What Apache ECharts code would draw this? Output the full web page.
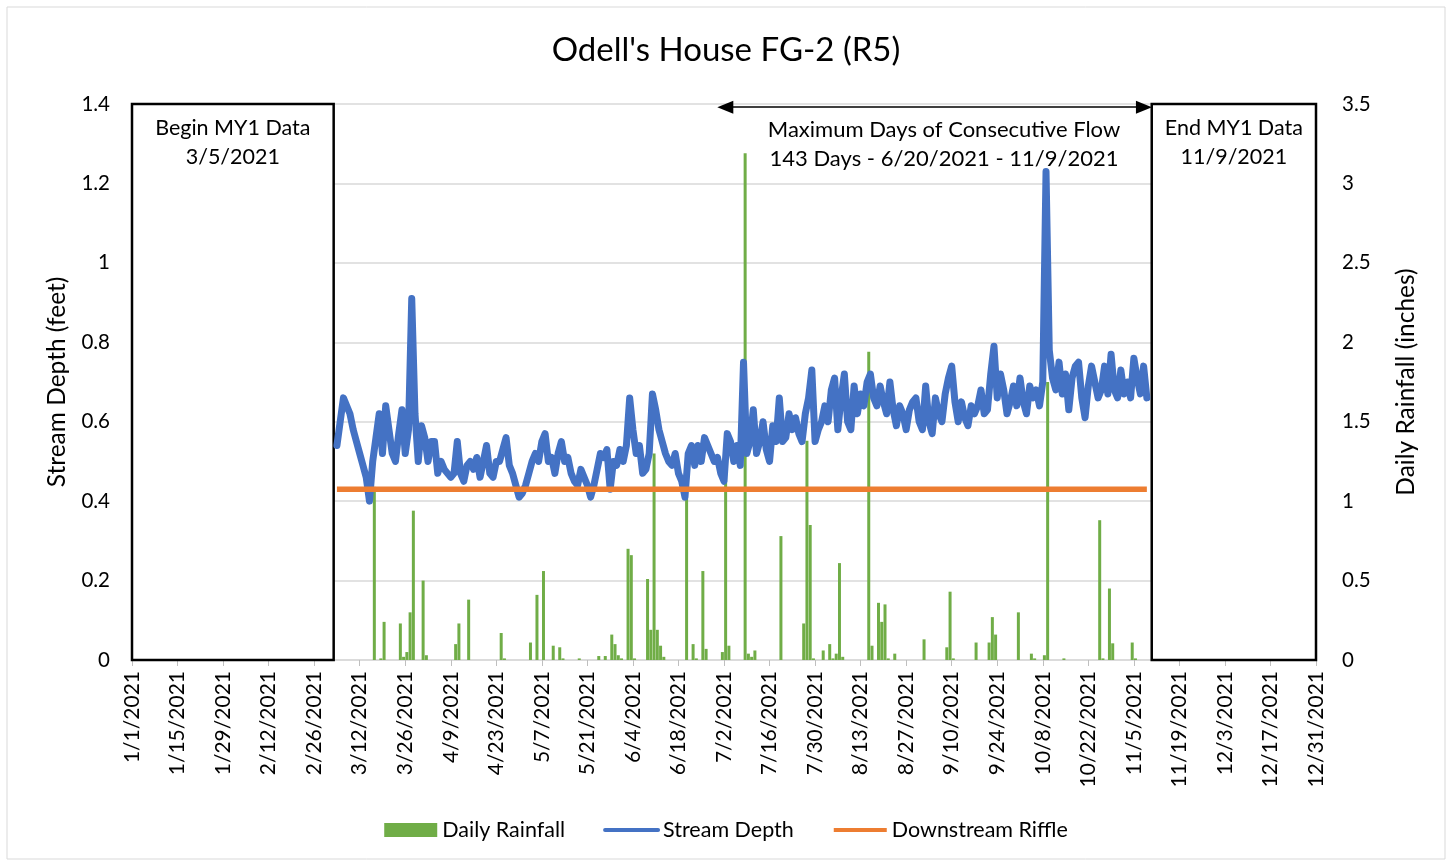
<!DOCTYPE html>
<html>
<head>
<meta charset="utf-8">
<title>Odell's House FG-2 (R5)</title>
<script src="https://cdn.jsdelivr.net/npm/echarts@6/dist/echarts.min.js"></script>
<style>
html,body{margin:0;padding:0;background:#fff;}
#main{width:1452px;height:864px;}
</style>
</head>
<body>
<div id="main"></div>
<script>
var year = 2021;

// stream depth (feet), one reading per day starting at depthStart
var depthStart = '3/5';
var streamDepth = [
	0.54,0.60,0.66,0.64,0.62,0.58,0.55,0.52,0.49,0.46,
	0.40,0.50,0.56,0.62,0.52,0.64,0.58,0.52,0.50,0.57,
	0.63,0.52,0.58,0.91,0.62,0.50,0.59,0.56,0.50,0.55,
	0.55,0.47,0.50,0.48,0.47,0.46,0.47,0.55,0.47,0.45,
	0.49,0.50,0.48,0.51,0.46,0.50,0.54,0.47,0.46,0.50,
	0.50,0.53,0.56,0.49,0.47,0.44,0.41,0.42,0.44,0.47,
	0.50,0.52,0.50,0.55,0.57,0.50,0.51,0.47,0.52,0.55,
	0.50,0.51,0.47,0.45,0.44,0.48,0.46,0.44,0.41,0.44,
	0.48,0.52,0.51,0.53,0.43,0.50,0.49,0.53,0.50,0.54,
	0.66,0.58,0.52,0.54,0.47,0.48,0.52,0.67,0.63,0.58,
	0.55,0.52,0.50,0.49,0.52,0.47,0.45,0.41,0.52,0.54,
	0.49,0.54,0.50,0.56,0.54,0.52,0.50,0.51,0.47,0.45,
	0.57,0.55,0.50,0.54,0.49,0.75,0.52,0.55,0.63,0.52,
	0.55,0.60,0.53,0.50,0.59,0.55,0.66,0.55,0.56,0.62,
	0.58,0.61,0.57,0.55,0.62,0.66,0.73,0.55,0.58,0.60,
	0.64,0.60,0.68,0.71,0.58,0.66,0.72,0.60,0.58,0.69,
	0.62,0.67,0.64,0.70,0.72,0.66,0.64,0.69,0.65,0.62,
	0.70,0.63,0.59,0.64,0.62,0.58,0.63,0.65,0.66,0.60,
	0.58,0.69,0.60,0.57,0.66,0.62,0.60,0.67,0.71,0.74,
	0.65,0.60,0.65,0.61,0.59,0.64,0.62,0.64,0.68,0.62,
	0.63,0.72,0.79,0.66,0.72,0.68,0.62,0.65,0.69,0.64,
	0.71,0.65,0.62,0.69,0.66,0.68,0.64,0.70,1.23,0.78,
	0.71,0.68,0.75,0.67,0.72,0.63,0.71,0.74,0.75,0.66,
	0.61,0.69,0.74,0.70,0.66,0.68,0.74,0.67,0.77,0.68,
	0.66,0.73,0.67,0.70,0.66,0.76,0.71,0.67,0.74,0.66
];

// downstream riffle elevation (feet)
var riffleDepth = 0.43;

// daily rainfall (inches)
var rainDates = [
	'3/16','3/18','3/19','3/24','3/25','3/26','3/27','3/28','3/31','4/1',
	'4/10','4/11','4/14','4/24','4/25','5/3','5/5','5/7','5/10','5/12',
	'5/13','5/18','5/24','5/26','5/28','5/29','5/30','5/31','6/2','6/3',
	'6/4','6/8','6/9','6/10','6/11','6/12','6/13','6/20','6/22','6/23',
	'6/25','6/26','7/1','7/2','7/3','7/8','7/9','7/10','7/11','7/19',
	'7/26','7/27','7/28','7/29','8/1','8/3','8/4','8/5','8/6','8/7',
	'8/15','8/16','8/18','8/19','8/20','8/21','8/23','9/1','9/8','9/9',
	'9/10','9/17','9/21','9/22','9/23','9/30','10/4','10/5','10/8','10/9',
	'10/14','10/25','10/26','10/28','10/29','11/4','11/5'
];
var rainInches = [
	1.09,0.01,0.24,0.23,0.02,0.05,0.30,0.94,0.50,0.03,
	0.10,0.23,0.38,0.17,0.01,0.11,0.41,0.56,0.09,0.08,
	0.01,0.01,0.025,0.025,0.16,0.10,0.03,0.01,0.70,0.66,
	0.01,0.51,0.19,1.30,0.19,0.09,0.02,1.02,0.10,0.01,
	0.56,0.07,0.05,1.20,0.09,3.19,0.04,0.02,0.06,0.78,
	0.23,1.38,0.85,0.01,0.06,0.10,0.01,0.04,0.61,0.02,
	1.94,0.09,0.36,0.24,0.35,0.01,0.04,0.13,0.08,0.43,
	0.01,0.11,0.11,0.27,0.16,0.30,0.04,0.01,0.03,1.75,
	0.01,0.88,0.01,0.45,0.105,0.11,0.01
];

var daysShown = 364;   // 1/1 .. 12/31
var dateStep = 14;

function dayIndex(md){
	var p = md.split('/');
	return Math.round((Date.UTC(year, p[0] - 1, +p[1]) - Date.UTC(year, 0, 1)) / 86400000);
}
function dayLabel(n){
	var d = new Date(Date.UTC(year, 0, 1 + Math.round(n)));
	return (d.getUTCMonth() + 1) + '/' + d.getUTCDate() + '/' + d.getUTCFullYear();
}

var start = dayIndex(depthStart);
var depthData = [];
var riffleData = [];
for (var i = 0; i < streamDepth.length; i++) {
	depthData.push([start + i, streamDepth[i]]);
	riffleData.push([start + i, riffleDepth]);
}
var rainData = [];
for (var j = 0; j < rainDates.length; j++) {
	// columns sit in the middle of their day slot
	rainData.push([dayIndex(rainDates[j]) + 0.5, rainInches[j]]);
}

var font = 'Lato, "Liberation Sans", sans-serif';
var myChart = echarts.init(document.getElementById('main'));

var option = {
	backgroundColor: '#fff',
	animation: false,
	textStyle: { fontFamily: font, color: '#000' },
	title: {
		text: "Odell's House FG-2 (R5)",
		left: 'center',
		top: 29,
		textStyle: { fontFamily: font, fontSize: 33, fontWeight: 'normal', color: '#000' }
	},
	legend: {
		bottom: 18,
		left: 'center',
		itemWidth: 53,
		itemHeight: 14,
		itemGap: 38,
		textStyle: { fontFamily: font, fontSize: 21.5, color: '#000' },
		data: [
			{ name: 'Daily Rainfall', icon: 'rect' },
			{ name: 'Stream Depth', itemStyle: { opacity: 0 }, lineStyle: { width: 4 } },
			{ name: 'Downstream Riffle', itemStyle: { opacity: 0 }, lineStyle: { width: 4 } }
		]
	},
	grid: { left: 132, right: 136, top: 104, bottom: 204 },
	graphic: [
		{
			type: 'rect',
			shape: { x: 7, y: 7, width: 1438, height: 852 },
			style: { fill: 'none', stroke: '#d9d9d9', lineWidth: 1 },
			silent: true
		},
		{
			type: 'text',
			x: 944,
			y: 144,
			z: 100,
			style: {
				text: 'Maximum Days of Consecutive Flow\n143 Days - 6/20/2021 - 11/9/2021',
				textAlign: 'center',
				textVerticalAlign: 'middle',
				font: '22px ' + font,
				lineHeight: 29,
				fill: '#000'
			}
		}
	],
	xAxis: {
		type: 'value',
		min: 0,
		max: daysShown,
		interval: dateStep,
		splitLine: { show: false },
		axisLine: { lineStyle: { color: '#d9d9d9', width: 1.5 } },
		axisTick: { length: 6, lineStyle: { color: '#bfbfbf' } },
		axisLabel: {
			rotate: 90,
			margin: 11,
			fontSize: 21,
			color: '#000',
			fontFamily: font,
			formatter: dayLabel
		}
	},
	yAxis: [
		{
			type: 'value',
			min: 0,
			max: 1.4,
			interval: 0.2,
			name: 'Stream Depth (feet)',
			nameLocation: 'middle',
			nameGap: 62,
			nameTextStyle: { fontSize: 24.5, color: '#000', fontFamily: font },
			axisLine: { show: false },
			axisTick: { show: false },
			axisLabel: { fontSize: 20.5, color: '#000', margin: 22, fontFamily: font },
			splitLine: { lineStyle: { color: '#d9d9d9', width: 1.5 } }
		},
		{
			type: 'value',
			min: 0,
			max: 3.5,
			interval: 0.5,
			position: 'right',
			name: 'Daily Rainfall (inches)',
			nameLocation: 'middle',
			nameGap: 78,
			nameTextStyle: { fontSize: 24.5, color: '#000', fontFamily: font },
			axisLine: { show: false },
			axisTick: { show: false },
			axisLabel: { fontSize: 20.5, color: '#000', margin: 26, fontFamily: font },
			splitLine: { show: false }
		}
	],
	series: [
		{
			name: 'Daily Rainfall',
			type: 'bar',
			yAxisIndex: 1,
			barWidth: 3,
			itemStyle: { color: '#70AD47' },
			data: rainData,
			z: 2
		},
		{
			name: 'Stream Depth',
			type: 'line',
			yAxisIndex: 0,
			symbol: 'none',
			lineStyle: { color: '#4472C4', width: 7, join: 'round', cap: 'round' },
			itemStyle: { color: '#4472C4' },
			data: depthData,
			z: 3,
			markArea: {
				silent: true,
				itemStyle: { color: '#fff', borderColor: '#000', borderWidth: 2.5 },
				label: {
					show: true,
					position: 'insideTop',
					distance: 11,
					fontSize: 21.5,
					lineHeight: 29,
					color: '#000',
					fontFamily: font
				},
				data: [
					[{ name: 'Begin MY1 Data\n3/5/2021', xAxis: 0 }, { xAxis: 62 }],
					[{ name: 'End MY1 Data\n11/9/2021', xAxis: 313.5 }, { xAxis: daysShown }]
				]
			},
			markLine: {
				silent: true,
				symbol: ['triangle', 'triangle'],
				symbolSize: [13, 16],
				lineStyle: { color: '#000', width: 1.5, type: 'solid' },
				label: { show: false },
				data: [
					[{ coord: [182.4, 1.392] }, { coord: [311.1, 1.392] }]
				]
			}
		},
		{
			name: 'Downstream Riffle',
			type: 'line',
			yAxisIndex: 0,
			symbol: 'none',
			lineStyle: { color: '#ED7D31', width: 5.5 },
			itemStyle: { color: '#ED7D31' },
			data: riffleData,
			z: 4
		}
	]
};

myChart.setOption(option);
</script>
</body>
</html>
